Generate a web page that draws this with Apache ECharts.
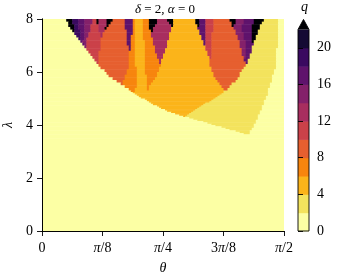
<!DOCTYPE html>
<html><head><meta charset="utf-8">
<script src="https://cdn.jsdelivr.net/npm/echarts@6/dist/echarts.min.js"></script>
<style>html,body{margin:0;padding:0;background:#fff}#c{width:338px;height:275px}</style>
</head><body><div id="c"></div>
<script>
// ---------- data ----------
const xTickLabels = ['0', '{i|π}/8', '{i|π}/4', '3{i|π}/8', '{i|π}/2']; // θ in units of π/8
const yTicks = [0, 2, 4, 6, 8];
const qBounds = [0, 2, 4, 6, 8, 10, 12, 14, 16, 18, 20, 22];   // contour levels of q
const cbTicks = [0, 4, 8, 12, 16, 20];
const nCols = 120;   // θ cells across 0..π/2
// rows of cells, "startCell:level" runs; level k means q in [2k, 2k+2), 11 = above 22
// upper band: λ from 8 down to 5.3 in steps of 0.1
const rowsUpper = [
"0:0,12:11,15:9,18:8,21:7,25:5,27:11,28:6,32:11,35:4,41:8,45:3,46:2,50:3,53:11,57:6,62:11,65:2,76:11,78:8,81:5,85:4,93:11,96:7,100:8,105:11,110:1,117:0",
"0:0,13:11,15:9,18:8,21:7,25:5,27:11,28:6,32:11,34:4,41:8,45:3,46:2,50:3,53:11,57:6,63:11,65:2,76:11,78:8,81:5,85:4,94:11,96:7,100:8,105:11,109:1,117:0",
"0:0,13:11,16:9,18:8,21:7,24:5,28:6,32:11,33:4,41:8,45:3,46:2,50:3,53:11,56:6,64:11,65:2,77:11,78:8,81:5,85:4,94:11,95:7,99:8,104:11,108:1,117:0",
"0:0,14:11,16:9,18:8,21:7,24:5,28:6,31:11,32:4,41:8,45:3,46:2,50:3,53:11,55:6,64:2,77:8,81:5,85:4,95:7,99:8,104:11,108:1,117:0",
"0:0,15:11,16:9,19:8,21:7,24:5,28:6,31:4,42:8,45:3,46:2,50:3,54:11,55:6,64:2,78:8,81:5,85:4,96:7,99:8,104:11,107:1,117:0",
"0:0,16:9,19:8,21:7,23:5,29:6,30:4,42:8,45:3,46:2,50:3,54:6,63:2,78:8,81:5,84:4,96:7,100:8,104:11,107:1,117:0",
"0:0,17:9,19:8,21:7,23:5,29:6,30:4,42:8,44:3,46:2,50:3,54:6,63:2,79:8,81:5,84:4,97:7,100:8,104:11,106:1,117:0",
"0:0,18:9,19:8,21:7,22:5,29:4,42:8,44:3,46:2,50:3,55:6,63:2,79:8,81:5,84:4,97:7,100:8,104:11,106:1,117:0",
"0:0,19:8,20:7,22:5,29:4,42:8,44:3,46:2,51:3,55:6,62:2,80:8,81:5,84:4,98:7,101:8,104:11,105:1,117:0",
"0:0,20:8,21:7,22:5,29:4,42:8,44:3,46:2,51:3,55:6,62:2,80:8,81:5,84:4,98:7,101:8,105:1,117:0",
"0:0,21:7,22:5,29:4,43:8,44:3,46:2,51:3,56:6,62:2,81:5,84:4,98:7,101:8,104:1,117:0",
"0:0,22:5,29:4,43:8,44:3,46:2,51:3,56:6,61:2,81:5,84:4,99:7,101:8,104:1,116:0",
"0:0,23:5,28:4,43:3,46:2,51:3,56:6,61:2,82:5,84:4,99:7,101:8,104:1,116:0",
"0:0,24:5,28:4,43:3,46:2,51:3,57:6,60:2,82:5,84:4,99:7,101:8,103:1,116:0",
"0:0,25:5,28:4,43:3,46:2,51:3,57:6,60:2,83:5,84:4,100:7,101:8,103:1,116:0",
"0:0,26:5,28:4,43:3,46:2,51:3,58:6,59:2,83:4,100:8,102:1,116:0",
"0:0,27:5,28:4,43:3,46:2,51:3,58:6,59:2,83:4,101:8,102:1,116:0",
"0:0,28:4,43:3,46:2,51:3,59:2,83:4,101:1,116:0",
"0:0,29:4,43:3,47:2,51:3,58:2,84:4,100:1,116:0",
"0:0,31:4,42:3,47:2,51:3,58:2,84:4,99:1,115:0",
"0:0,32:4,42:3,47:2,51:3,57:2,85:4,98:1,115:0",
"0:0,33:4,41:3,47:2,52:3,57:2,85:4,98:1,114:0",
"0:0,35:4,41:3,47:2,52:3,56:2,86:4,97:1,114:0",
"0:0,37:4,40:3,47:2,52:3,55:2,87:4,96:1,114:0",
"0:0,39:4,40:3,47:2,52:3,54:2,88:4,94:1,113:0",
"0:0,41:3,47:2,52:3,53:2,89:4,93:1,113:0",
"0:0,43:3,46:2,52:3,53:2,90:4,92:1,112:0"
];
// lower band: λ from 5.3 down to 3.5 in steps of 0.05
const rowsLower = [
"0:0,44:3,46:2,90:1,112:0",
"0:0,45:2,90:1,112:0",
"0:0,46:2,89:1,112:0",
"0:0,47:2,88:1,112:0",
"0:0,48:2,87:1,111:0",
"0:0,49:2,86:1,111:0",
"0:0,51:2,85:1,111:0",
"0:0,52:2,84:1,110:0",
"0:0,53:2,83:1,110:0",
"0:0,54:2,81:1,110:0",
"0:0,55:2,80:1,110:0",
"0:0,57:2,79:1,109:0",
"0:0,58:2,78:1,109:0",
"0:0,59:2,77:1,109:0",
"0:0,61:2,76:1,109:0",
"0:0,62:2,75:1,108:0",
"0:0,64:2,74:1,108:0",
"0:0,66:2,73:1,108:0",
"0:0,68:2,72:1,107:0",
"0:0,70:2,71:1,107:0",
"0:0,73:1,107:0",
"0:0,75:1,107:0",
"0:0,77:1,106:0",
"0:0,80:1,106:0",
"0:0,82:1,106:0",
"0:0,84:1,105:0",
"0:0,86:1,105:0",
"0:0,89:1,105:0",
"0:0,91:1,104:0",
"0:0,93:1,104:0",
"0:0,96:1,103:0",
"0:0,98:1,103:0",
"0:0,100:1,103:0",
"0:0","0:0","0:0"
];
// base band: λ from 3.5 down to 0, one row
const rowsBase = ["0:0"];
const bands = [
  {top: 8.0, step: 0.1, rows: rowsUpper},
  {top: 5.3, step: 0.05, rows: rowsLower},
  {top: 3.5, step: 3.5, rows: rowsBase}
];

// ---------- styles ----------
const levelColors = ['#fcffa4','#f3e35d','#fbb41a','#f7850e','#e65f2f','#cb4149',
                     '#a82e5f','#84216a','#5f136c','#3a0a60','#140a34','#000004'];
const SERIF = '"Liberation Serif", "DejaVu Serif", serif';
const FS = 14;

// ---------- build ----------
const THETA_MAX = 4, LAMBDA_MAX = 8;
const cells = [];
bands.forEach(b => {
  b.rows.forEach((s, r) => {
    const lTop = b.top - r * b.step, lBot = b.top - (r + 1) * b.step;
    const parts = s.split(',').map(p => p.split(':').map(Number));
    parts.forEach((p, i) => {
      const end = i + 1 < parts.length ? parts[i + 1][0] : nCols;
      cells.push([p[0] * THETA_MAX / nCols, lBot, end * THETA_MAX / nCols, lTop, p[1]]);
    });
  });
});
const cbData = [];
for (let i = 0; i + 1 < qBounds.length; i++) cbData.push([qBounds[i], qBounds[i + 1], i]);
const qTop = qBounds[qBounds.length - 1];
const overTop = qTop * 1.05;
cbData.push([qTop, overTop, qBounds.length - 1]);

const chart = echarts.init(document.getElementById('c'), null, {renderer: 'canvas'});
const italic = {fontStyle: 'italic', fontFamily: SERIF, fontSize: FS, color: '#000'};
const frameLine = {show: true, lineStyle: {color: '#000', width: 0.9}};
const tickStyle = {show: true, inside: false, length: 5, lineStyle: {color: '#000', width: 0.9}};

chart.setOption({
  animation: false,
  backgroundColor: '#fff',
  grid: [
    {left: 42, top: 19, width: 242, height: 212, containLabel: false, outerBoundsMode: 'none'},
    {left: 298, top: 29.5, width: 11, height: 201.5, containLabel: false, outerBoundsMode: 'none'}
  ],
  xAxis: [
    {type: 'value', gridIndex: 0, min: 0, max: THETA_MAX, interval: 1, z: 10,
     axisLine: frameLine, axisTick: tickStyle, splitLine: {show: false},
     axisLabel: {formatter: v => xTickLabels[Math.round(v)], fontFamily: SERIF, fontSize: FS, color: '#000', margin: 10,
                 rich: {i: italic}},
     name: 'θ', nameLocation: 'middle', nameGap: 30, nameTextStyle: italic},
    {type: 'value', gridIndex: 0, min: 0, max: THETA_MAX, position: 'top', z: 10,
     axisLine: frameLine, axisTick: {show: false}, axisLabel: {show: false}, splitLine: {show: false}},
    {type: 'value', gridIndex: 1, min: 0, max: 1, show: false}
  ],
  yAxis: [
    {type: 'value', gridIndex: 0, min: 0, max: LAMBDA_MAX, interval: 2, z: 10,
     axisLine: frameLine, axisTick: tickStyle, splitLine: {show: false},
     axisLabel: {fontFamily: SERIF, fontSize: FS, color: '#000', margin: 9},
     name: 'λ', nameLocation: 'middle', nameGap: 27, nameRotate: 90, nameTextStyle: italic},
    {type: 'value', gridIndex: 0, min: 0, max: LAMBDA_MAX, position: 'right', z: 10,
     axisLine: frameLine, axisTick: {show: false}, axisLabel: {show: false}, splitLine: {show: false}},
    {type: 'value', gridIndex: 1, min: 0, max: qTop, position: 'right', z: 10,
     axisLine: {show: false}, splitLine: {show: false},
     axisTick: {show: true, length: 5, customValues: cbTicks, lineStyle: {color: '#000', width: 0.9}},
     axisLabel: {customValues: cbTicks, fontFamily: SERIF, fontSize: FS, color: '#000', margin: 8}}
  ],
  series: [
    {type: 'custom', xAxisIndex: 0, yAxisIndex: 0, clip: true, silent: true,
     encode: {x: [0, 2], y: [1, 3]}, data: cells,
     renderItem: (params, api) => {
       const p0 = api.coord([api.value(0), api.value(3)]);
       const p1 = api.coord([api.value(2), api.value(1)]);
       return {type: 'rect', shape: {x: p0[0], y: p0[1], width: p1[0] - p0[0] + 0.5, height: p1[1] - p0[1] + 0.5},
               style: {fill: levelColors[api.value(4)]}};
     }},
    {type: 'custom', xAxisIndex: 2, yAxisIndex: 2, clip: false, silent: true,
     encode: {y: [0, 1]}, data: cbData,
     renderItem: (params, api) => {
       const lo = api.value(0), hi = api.value(1), k = api.value(2);
       const fill = levelColors[k];
       if (k === levelColors.length - 1) {
         const a = api.coord([0, lo]), b = api.coord([1, lo]), t = api.coord([0.5, hi]);
         return {type: 'polygon', shape: {points: [a, b, t]}, style: {fill}};
       }
       const p0 = api.coord([0, hi]), p1 = api.coord([1, lo]);
       return {type: 'rect', shape: {x: p0[0], y: p0[1], width: p1[0] - p0[0], height: p1[1] - p0[1] + 0.5},
               style: {fill}};
     }},
    {type: 'custom', xAxisIndex: 2, yAxisIndex: 2, clip: false, silent: true, z: 5,
     data: [[0]],
     renderItem: (params, api) => {
       const pts = [api.coord([0, 0]), api.coord([1, 0]), api.coord([1, qTop]),
                    api.coord([0.5, overTop]), api.coord([0, qTop])];
       return {type: 'polygon', shape: {points: pts},
               style: {fill: 'none', stroke: '#000', lineWidth: 0.9}};
     }}
  ],
  graphic: [
    {type: 'text', z: 20,
     style: {text: '{i|δ} = 2, {i|α} = 0', x: 165, y: 3, textAlign: 'center',
             font: '13px ' + SERIF, fill: '#000',
             rich: {i: {fontStyle: 'italic', fontFamily: SERIF, fontSize: 13, color: '#000'}}}},
    {type: 'text', z: 20,
     style: {text: 'q', x: 304.5, y: 0, textAlign: 'center', font: 'italic 14px ' + SERIF, fill: '#000'}}
  ]
});
</script></body></html>
